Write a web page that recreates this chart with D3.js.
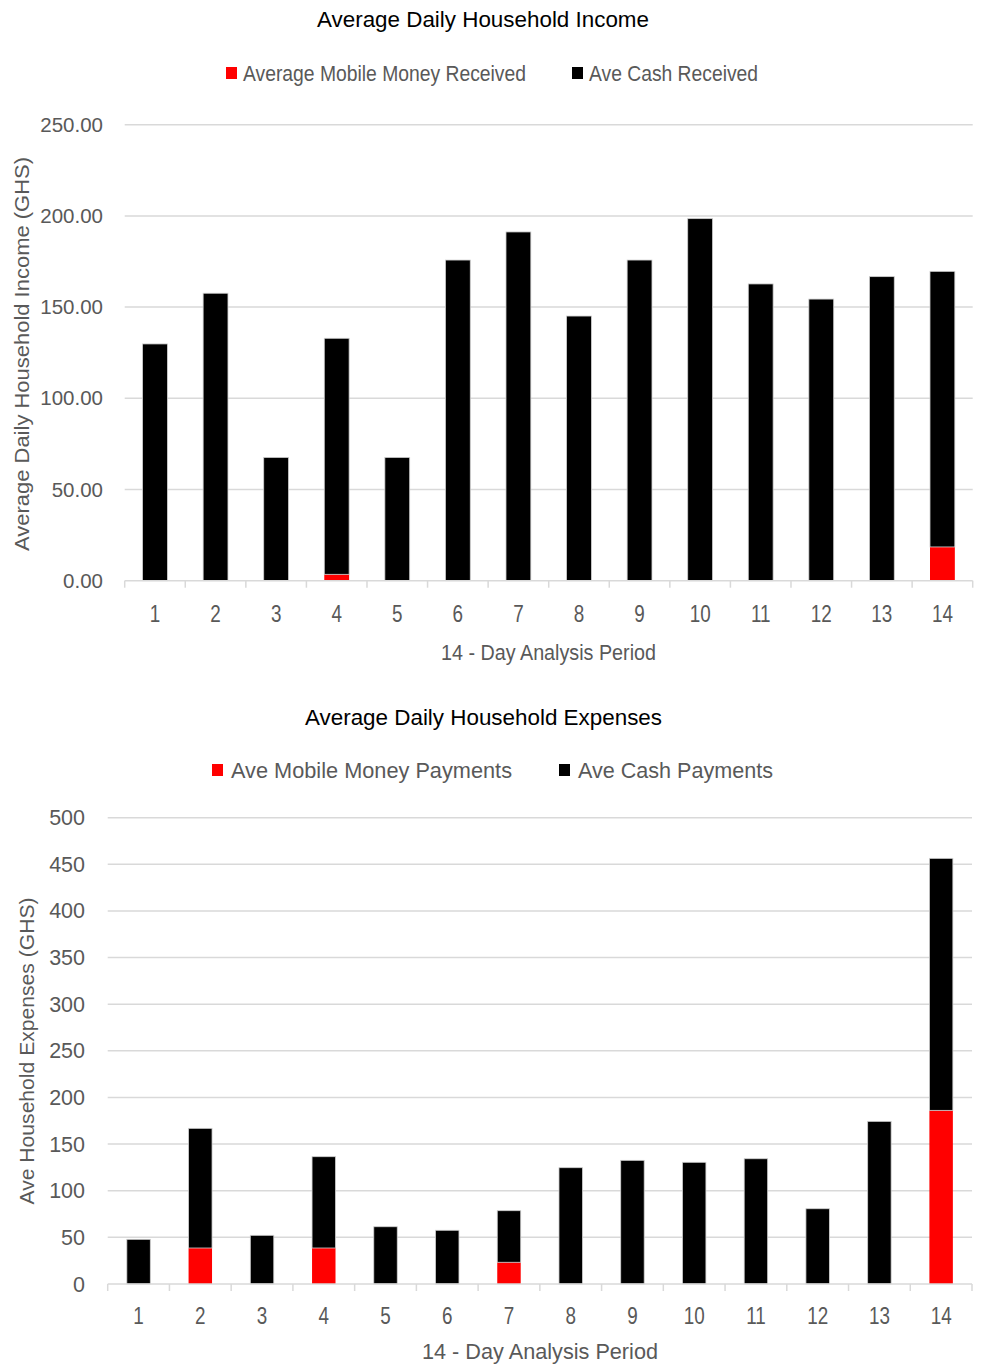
<!DOCTYPE html>
<html>
<head>
<meta charset="utf-8">
<script src="https://cdn.jsdelivr.net/npm/d3@7"></script>
<style>
  html, body { margin: 0; padding: 0; background: #fff; }
  svg { display: block; }
</style>
</head>
<body>
<svg id="chart" width="981" height="1366"></svg>
<script>
// 14-day analysis period
const days = [1, 2, 3, 4, 5, 6, 7, 8, 9, 10, 11, 12, 13, 14];

// Average daily household income (GHS)
const incomeMobile = [0, 0, 0, 3.5, 0, 0, 0, 0, 0, 0, 0, 0, 0, 18.5];
const incomeCash   = [129.8, 157.6, 67.6, 129.4, 67.6, 175.8, 191.2, 145.1, 175.8, 198.5, 162.7, 154.4, 166.7, 151.1];

// Average daily household expenses (GHS)
const expenseMobile = [0, 38.6, 0, 38.6, 0, 0, 23.3, 0, 0, 0, 0, 0, 0, 186.2];
const expenseCash   = [47.9, 128.3, 52.2, 97.9, 61.4, 57.6, 55.3, 124.7, 132.6, 130.5, 134.3, 80.7, 174.4, 270.2];

const incomeTicks  = [0, 50, 100, 150, 200, 250];
const expenseTicks = [0, 50, 100, 150, 200, 250, 300, 350, 400, 450, 500];

const RED = "#ff0000", BLACK = "#000000", GRID = "#d9d9d9", LABEL = "#595959";
const SANS = "'Liberation Sans', Arial, sans-serif";

const svg = d3.select("#chart");

function drawPanel(p) {
  const g = svg.append("g");
  const rows = days.map((d, i) => ({ day: d, mobile: p.mobile[i], cash: p.cash[i] }));
  const stacked = d3.stack().keys(["mobile", "cash"])(rows);

  const x = d3.scaleBand().domain(days).range(p.xRange)
    .paddingInner(p.pad).paddingOuter(p.pad / 2);
  const y = d3.scaleLinear().domain([0, d3.max(p.ticks)]).range(p.yRange);
  const edge = d3.scaleLinear().domain([0, days.length]).range(p.xRange);
  const fitText = (sel, t) => sel.attr("textLength", t.w).attr("lengthAdjust", "spacingAndGlyphs");

  // horizontal gridlines
  g.append("g").selectAll("line").data(p.ticks.filter(t => t > 0)).join("line")
    .attr("x1", p.xRange[0]).attr("x2", p.xRange[1])
    .attr("y1", d => y(d)).attr("y2", d => y(d))
    .attr("stroke", GRID).attr("stroke-width", 1.5);

  // y tick labels
  g.append("g").selectAll("text").data(p.ticks).join("text")
    .attr("x", p.yLabelX).attr("y", d => y(d))
    .attr("dy", "0.35em").attr("text-anchor", "end")
    .attr("font-family", SANS).attr("font-size", p.yFont).attr("fill", LABEL)
    .text(d => p.fmt(d));

  // stacked bars
  const colors = { mobile: RED, cash: BLACK };
  g.append("g").selectAll("g").data(stacked).join("g")
    .attr("fill", s => colors[s.key])
    .selectAll("rect").data(s => s.map(v => ({ v, key: s.key }))).join("rect")
    .attr("x", d => x(d.v.data.day))
    .attr("width", x.bandwidth())
    .attr("y", d => y(d.v[1]))
    .attr("height", d => Math.max(0, y(d.v[0]) - y(d.v[1])))
    .attr("stroke", d => d.key === "cash" && d.v[1] > d.v[0] ? "#cfcfcf" : "none")
    .attr("stroke-width", 0.8);

  // category axis line and boundary ticks
  g.append("line")
    .attr("x1", p.xRange[0]).attr("x2", p.xRange[1])
    .attr("y1", y(0)).attr("y2", y(0))
    .attr("stroke", GRID).attr("stroke-width", 1.5);
  g.append("g").selectAll("line").data(d3.range(days.length + 1)).join("line")
    .attr("x1", d => edge(d)).attr("x2", d => edge(d))
    .attr("y1", y(0)).attr("y2", y(0) + 7)
    .attr("stroke", GRID).attr("stroke-width", 1.5);

  // x tick labels (narrow face)
  g.append("g").selectAll("text").data(days).join("text")
    .attr("transform", d => `translate(${x(d) + x.bandwidth() / 2},${p.xLabelY}) scale(0.82,1)`)
    .attr("dy", "0.35em").attr("text-anchor", "middle")
    .attr("font-family", SANS).attr("font-size", p.xFont).attr("fill", LABEL)
    .text(d => d);

  // x axis title
  g.append("text").attr("x", p.xTitle.x).attr("y", p.xTitle.y).attr("dy", "0.35em")
    .attr("font-family", SANS).attr("font-size", p.xTitle.size).attr("fill", LABEL)
    .call(fitText, p.xTitle).text(p.xTitle.text);

  // y axis title
  g.append("text")
    .attr("transform", `translate(${p.yTitle.x},${p.yTitle.y}) rotate(-90)`)
    .attr("x", -p.yTitle.w / 2).attr("dy", "0.35em")
    .attr("font-family", SANS).attr("font-size", p.yTitle.size).attr("fill", LABEL)
    .call(fitText, p.yTitle).text(p.yTitle.text);

  // chart title
  g.append("text").attr("x", p.title.x).attr("y", p.title.y).attr("dy", "0.35em")
    .attr("font-family", SANS).attr("font-size", p.title.size).attr("fill", "#000")
    .call(fitText, p.title).text(p.title.text);

  // legend
  p.legend.forEach((l, i) => {
    g.append("rect").attr("x", l.sx).attr("y", p.legendY - 6).attr("width", 11).attr("height", 12)
      .attr("fill", i === 0 ? RED : BLACK);
    g.append("text").attr("x", l.tx).attr("y", p.legendY).attr("dy", "0.35em")
      .attr("font-family", SANS).attr("font-size", p.legendSize).attr("fill", LABEL)
      .call(fitText, l).text(l.text);
  });
}

drawPanel({
  mobile: incomeMobile, cash: incomeCash, ticks: incomeTicks,
  fmt: d3.format(".2f"),
  xRange: [124.7, 972.7], yRange: [580.7, 124.7], pad: 0.59,
  yLabelX: 103, yFont: 20.5, xLabelY: 614, xFont: 23,
  xTitle: { text: "14 - Day Analysis Period", x: 441, y: 652, w: 215, size: 22 },
  yTitle: { text: "Average Daily Household Income (GHS)", x: 22, y: 354, w: 394, size: 21 },
  title: { text: "Average Daily Household Income", x: 317, y: 19, w: 332, size: 22 },
  legendY: 73, legendSize: 22,
  legend: [
    { sx: 226, tx: 243, w: 283, text: "Average Mobile Money Received" },
    { sx: 572, tx: 589, w: 169, text: "Ave Cash Received" }
  ]
});

drawPanel({
  mobile: expenseMobile, cash: expenseCash, ticks: expenseTicks,
  fmt: d3.format("d"),
  xRange: [107.7, 972], yRange: [1284, 817.7], pad: 0.62,
  yLabelX: 85, yFont: 21.5, xLabelY: 1316, xFont: 23,
  xTitle: { text: "14 - Day Analysis Period", x: 422, y: 1351, w: 236, size: 22 },
  yTitle: { text: "Ave Household Expenses (GHS)", x: 27, y: 1051, w: 307, size: 21 },
  title: { text: "Average Daily Household Expenses", x: 305, y: 717, w: 357, size: 22 },
  legendY: 770, legendSize: 22,
  legend: [
    { sx: 212, tx: 231, w: 281, text: "Ave Mobile Money Payments" },
    { sx: 559, tx: 578, w: 195, text: "Ave Cash Payments" }
  ]
});
</script>
</body>
</html>
